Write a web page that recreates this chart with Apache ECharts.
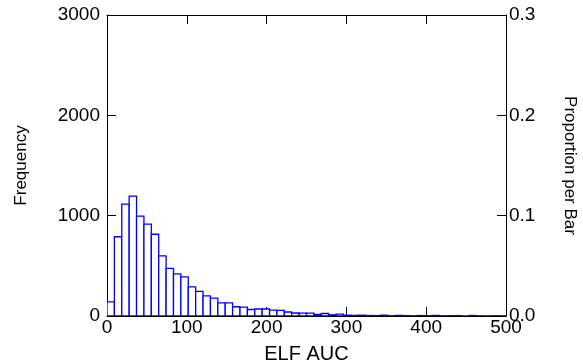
<!DOCTYPE html>
<html>
<head>
<meta charset="utf-8">
<script src="https://cdn.jsdelivr.net/npm/echarts@6/dist/echarts.min.js"></script>
<style>
  html, body { margin: 0; padding: 0; background: #fff; }
  #chart { width: 583px; height: 364px; }
</style>
</head>
<body>
<div id="chart"></div>
<script>
// histogram of ELF AUC, 54 bins over 0..500
const binStart = 0
const binWidth = 500 / 54
const counts = [
  140, 790, 1115, 1195, 995, 915, 815, 600, 475, 420,
  390, 290, 245, 200, 178, 130, 130, 92, 88, 65,
  70, 70, 58, 57, 40, 30, 28, 28, 15, 25,
  12, 18, 8, 6, 8, 5, 4, 8, 3, 6,
  4, 2, 5, 3, 6, 2, 3, 4, 1, 5,
  2, 1, 3, 2
]
const xTicks = [0, 100, 200, 300, 400, 500]
const freqTicks = [0, 1000, 2000, 3000]
const propTicks = [0.0, 0.1, 0.2, 0.3]

const font = 'Liberation Sans, Arial, sans-serif'

const bars = counts.map((c, i) => [binStart + i * binWidth, binStart + (i + 1) * binWidth, c])

const chart = echarts.init(document.getElementById('chart'), null, { renderer: 'canvas' })

const tickStyle = { show: true, inside: true, length: 9, lineStyle: { color: '#000', width: 1 } }
const lineStyle = { show: true, onZero: false, lineStyle: { color: '#000', width: 1 } }

chart.setOption({
  animation: false,
  grid: { left: 107, right: 77, top: 15, bottom: 48, outerBoundsMode: 'none' },
  xAxis: [
    {
      type: 'value',
      position: 'bottom',
      min: xTicks[0],
      max: xTicks[xTicks.length - 1],
      interval: 100,
      name: 'ELF AUC',
      nameLocation: 'middle',
      nameGap: 28,
      nameTextStyle: { color: '#000', fontSize: 20, fontFamily: font },
      axisLine: lineStyle,
      axisTick: tickStyle,
      axisLabel: { color: '#000', fontSize: 19, fontFamily: font, margin: 2 },
      splitLine: { show: false }
    },
    {
      type: 'value',
      position: 'top',
      min: xTicks[0],
      max: xTicks[xTicks.length - 1],
      interval: 100,
      axisLine: lineStyle,
      axisTick: tickStyle,
      axisLabel: { show: false },
      splitLine: { show: false }
    }
  ],
  yAxis: [
    {
      type: 'value',
      position: 'left',
      min: freqTicks[0],
      max: freqTicks[freqTicks.length - 1],
      interval: 1000,
      name: 'Frequency',
      nameLocation: 'middle',
      nameGap: 77,
      nameTextStyle: { color: '#000', fontSize: 17, fontFamily: font },
      axisLine: lineStyle,
      axisTick: tickStyle,
      axisLabel: {
        color: '#000', fontSize: 19, fontFamily: font, margin: 7,
        formatter: v => String(v)
      },
      splitLine: { show: false }
    },
    {
      type: 'value',
      position: 'right',
      min: propTicks[0],
      max: propTicks[propTicks.length - 1],
      interval: 0.1,
      name: 'Proportion per Bar',
      nameLocation: 'middle',
      nameRotate: -90,
      nameGap: 55,
      nameTextStyle: { color: '#000', fontSize: 17, fontFamily: font },
      axisLine: lineStyle,
      axisTick: tickStyle,
      axisLabel: {
        color: '#000', fontSize: 19, fontFamily: font, margin: 3,
        formatter: v => v.toFixed(1)
      },
      splitLine: { show: false }
    }
  ],
  series: [
    {
      type: 'custom',
      xAxisIndex: 0,
      yAxisIndex: 0,
      clip: true,
      data: bars,
      encode: { x: [0, 1], y: 2 },
      renderItem: function (params, api) {
        const p0 = api.coord([api.value(0), 0])
        const p1 = api.coord([api.value(1), api.value(2)])
        return {
          type: 'rect',
          shape: { x: p0[0], y: p1[1], width: p1[0] - p0[0], height: p0[1] - p1[1] },
          style: { fill: '#fff', stroke: '#0000ff', lineWidth: 1.3 }
        }
      }
    }
  ]
})
</script>
</body>
</html>
